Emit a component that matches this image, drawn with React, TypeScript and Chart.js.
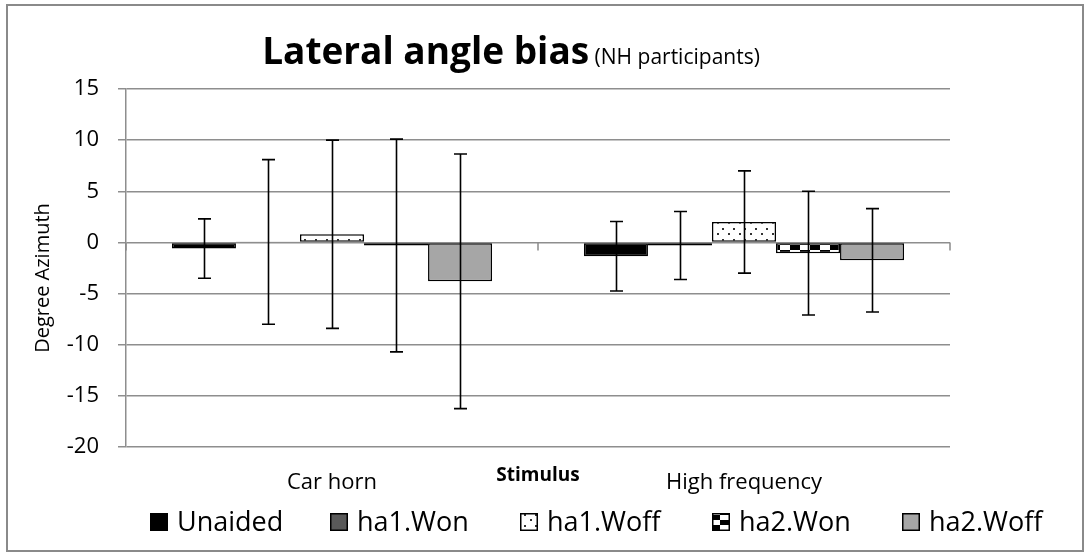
import React, { useEffect, useRef } from "react";
import { Chart, registerables } from "chart.js";

Chart.register(...registerables);

// ---------- data ----------
const categories = ["Car horn", "High frequency"];
const seriesNames = ["Unaided", "ha1.Won", "ha1.Woff", "ha2.Won", "ha2.Woff"];

const unaided = [-0.6, -1.35];
const ha1Won = [0.05, -0.3];
const ha1Woff = [0.8, 2.0];
const ha2Won = [-0.3, -1.05];
const ha2Woff = [-3.8, -1.75];

const unaidedErr = [2.9, 3.4];
const ha1WonErr = [8.05, 3.33];
const ha1WoffErr = [9.2, 5.0];
const ha2WonErr = [10.4, 6.05];
const ha2WoffErr = [12.45, 5.05];

const yMin = -20;
const yMax = 15;
const yStep = 5;

const titleMain = "Lateral angle bias";
const titleSub = " (NH participants)";
const yTitle = "Degree Azimuth";
const xTitle = "Stimulus";

const seriesValues = [unaided, ha1Won, ha1Woff, ha2Won, ha2Woff];
const seriesErrors = [unaidedErr, ha1WonErr, ha1WoffErr, ha2WonErr, ha2WoffErr];

const FONT = '"Open Sans", "DejaVu Sans", sans-serif';

function makeDotPattern(): CanvasPattern | string {
  const c = document.createElement("canvas");
  c.width = 11;
  c.height = 11;
  const g = c.getContext("2d");
  if (!g) return "#fff";
  g.fillStyle = "#ffffff";
  g.fillRect(0, 0, 11, 11);
  g.fillStyle = "#333333";
  g.fillRect(2, 2, 2, 2);
  g.fillRect(7, 8, 2, 2);
  return g.createPattern(c, "repeat") || "#fff";
}

function makeCheckerPattern(): CanvasPattern | string {
  const c = document.createElement("canvas");
  c.width = 20;
  c.height = 10;
  const g = c.getContext("2d");
  if (!g) return "#000";
  g.fillStyle = "#ffffff";
  g.fillRect(0, 0, 20, 10);
  g.fillStyle = "#000000";
  g.fillRect(0, 0, 10, 5);
  g.fillRect(10, 5, 10, 5);
  return g.createPattern(c, "repeat") || "#000";
}

export default function App() {
  const canvasRef = useRef<HTMLCanvasElement | null>(null);

  useEffect(() => {
    const canvas = canvasRef.current;
    if (!canvas) return;

    const fills = [
      "#000000",
      "#595959",
      makeDotPattern(),
      makeCheckerPattern(),
      "#a6a6a6",
    ];

    const errorBarPlugin = {
      id: "errorBars",
      afterDatasetsDraw(chart: any) {
        const ctx = chart.ctx;
        const yScale = chart.scales.y;
        ctx.save();
        ctx.strokeStyle = "#000";
        ctx.lineWidth = 1.6;
        chart.data.datasets.forEach((ds: any, i: number) => {
          const meta = chart.getDatasetMeta(i);
          meta.data.forEach((bar: any, j: number) => {
            const v = ds.data[j];
            const e = seriesErrors[i][j];
            const x = Math.round(bar.x) + 0.5;
            const yt = yScale.getPixelForValue(v + e);
            const yb = yScale.getPixelForValue(v - e);
            ctx.beginPath();
            ctx.moveTo(x, yt);
            ctx.lineTo(x, yb);
            ctx.moveTo(x - 6.5, yt);
            ctx.lineTo(x + 6.5, yt);
            ctx.moveTo(x - 6.5, yb);
            ctx.lineTo(x + 6.5, yb);
            ctx.stroke();
          });
        });
        ctx.restore();
      },
    };

    const decorPlugin = {
      id: "decor",
      beforeDraw(chart: any) {
        const ctx = chart.ctx;
        ctx.save();
        ctx.fillStyle = "#ffffff";
        ctx.fillRect(0, 0, chart.width, chart.height);
        ctx.strokeStyle = "#8a8a8a";
        ctx.lineWidth = 2;
        ctx.strokeRect(7, 5, 1076, 546);
        ctx.restore();
      },
      afterDraw(chart: any) {
        const ctx = chart.ctx;
        const area = chart.chartArea;
        const yScale = chart.scales.y;
        ctx.save();

        // category boundary tick marks on the zero line
        const y0 = yScale.getPixelForValue(0);
        ctx.strokeStyle = "#8a8a8a";
        ctx.lineWidth = 1.5;
        const n = categories.length;
        for (let k = 0; k <= n; k++) {
          const x = area.left + ((area.right - area.left) * k) / n;
          ctx.beginPath();
          ctx.moveTo(x, y0);
          ctx.lineTo(x, y0 + 8);
          ctx.stroke();
        }

        // title
        ctx.fillStyle = "#000";
        ctx.textBaseline = "alphabetic";
        ctx.textAlign = "left";
        ctx.font = `bold 37px ${FONT}`;
        const w1 = ctx.measureText(titleMain).width;
        ctx.font = `21px ${FONT}`;
        const w2 = ctx.measureText(titleSub).width;
        const x0 = 511 - (w1 + w2) / 2;
        ctx.font = `bold 37px ${FONT}`;
        ctx.fillText(titleMain, x0, 64);
        ctx.font = `21px ${FONT}`;
        ctx.fillText(titleSub, x0 + w1, 64);

        // y axis title
        ctx.save();
        ctx.translate(43, 278);
        ctx.rotate(-Math.PI / 2);
        ctx.textAlign = "center";
        ctx.textBaseline = "middle";
        ctx.font = `20px ${FONT}`;
        ctx.fillText(yTitle, 0, 0);
        ctx.restore();

        // x axis title
        ctx.textAlign = "center";
        ctx.textBaseline = "alphabetic";
        ctx.font = `bold 19px ${FONT}`;
        ctx.fillText(xTitle, (area.left + area.right) / 2, 481);

        // legend
        const boxX = [150, 330, 520, 712, 902];
        ctx.font = `27px ${FONT}`;
        ctx.textAlign = "left";
        ctx.textBaseline = "alphabetic";
        seriesNames.forEach((name, i) => {
          const bx = boxX[i];
          ctx.fillStyle = fills[i] as any;
          ctx.fillRect(bx, 513, 18, 18);
          ctx.strokeStyle = "#000";
          ctx.lineWidth = 1.5;
          ctx.strokeRect(bx + 0.75, 513.75, 16.5, 16.5);
          ctx.fillStyle = "#000";
          ctx.fillText(name, bx + 27, 531);
        });

        ctx.restore();
      },
    };

    const chart = new Chart(canvas, {
      type: "bar",
      data: {
        labels: categories,
        datasets: seriesNames.map((name, i) => ({
          label: name,
          data: seriesValues[i],
          backgroundColor: fills[i] as any,
          borderColor: "#000000",
          borderWidth: 1.5,
          borderSkipped: false,
          categoryPercentage: 0.777,
          barPercentage: 1.0,
        })),
      },
      options: {
        responsive: false,
        animation: false,
        events: [],
        layout: { padding: { top: 89, right: 140, bottom: 0, left: 0 } },
        plugins: {
          legend: { display: false },
          title: { display: false },
          tooltip: { enabled: false },
        },
        scales: {
          x: {
            grid: { display: false, drawTicks: false },
            border: { display: false },
            ticks: {
              color: "#000",
              font: { family: FONT, size: 22 },
              padding: 23,
            },
            afterFit(scale: any) {
              scale.height = 113;
            },
          },
          y: {
            min: yMin,
            max: yMax,
            ticks: {
              stepSize: yStep,
              color: "#000",
              font: { family: FONT, size: 22 },
              padding: 19,
            },
            grid: {
              color: "#8e8e8e",
              lineWidth: 1.5,
              drawTicks: true,
              tickLength: 8,
            },
            border: { display: true, color: "#8e8e8e", width: 1.5 },
            afterFit(scale: any) {
              scale.width = 126;
            },
          },
        },
      },
      plugins: [errorBarPlugin, decorPlugin],
    });

    return () => {
      chart.destroy();
    };
  }, []);

  return (
    <div style={{ position: "absolute", left: 0, top: 0, width: 1090, height: 560, background: "#fff" }}>
      <canvas ref={canvasRef} width={1090} height={560} style={{ display: "block" }} />
    </div>
  );
}
